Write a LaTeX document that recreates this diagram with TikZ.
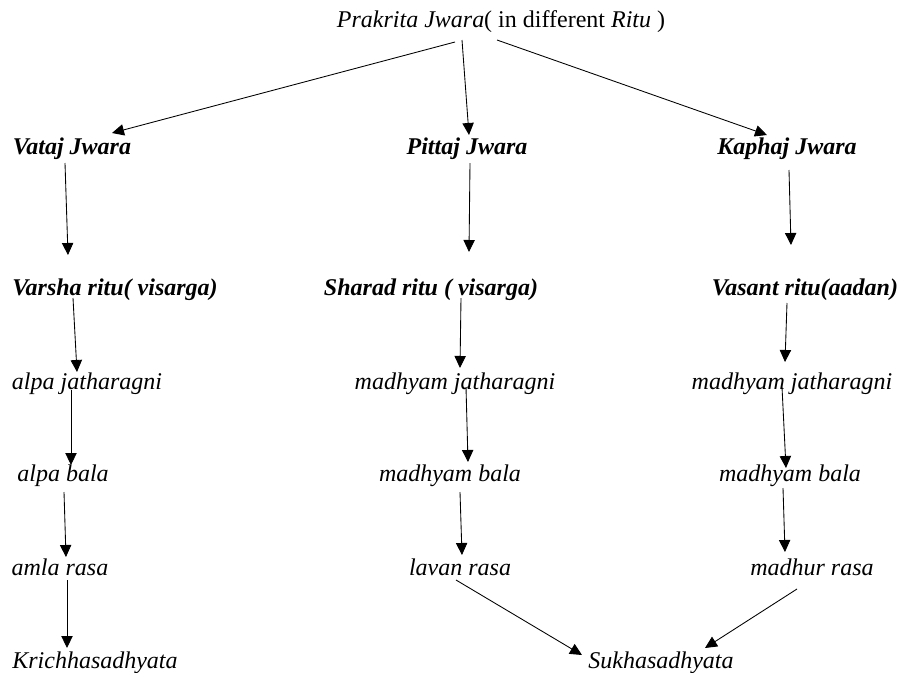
\documentclass[tikz,border=0pt]{standalone}
\usepackage{fontspec}
\setmainfont{Liberation Serif}[UprightFont=*,BoldFont=* Bold,ItalicFont=* Italic,BoldItalicFont=* Bold Italic]
\usetikzlibrary{arrows.meta,calc}
\begin{document}
\begin{tikzpicture}[x=0.75pt,y=-0.75pt,
  lbl/.style={inner sep=0pt,anchor=base,font=\fontsize{18}{21}\selectfont\itshape},
  blbl/.style={lbl,font=\fontsize{18}{21}\selectfont\bfseries\itshape},
  arr/.style={-{Triangle[length=9pt,width=8.5pt]},line width=0.65pt}]
\useasboundingbox (0,0) rectangle (897,672);
\node[lbl] (top) at (501,27) {Prakrita Jwara{\upshape( in different }Ritu{\upshape\ )}};
\node[blbl] (vataj) at (72,154) {Vataj Jwara};
\node[blbl] (pittaj) at (467,154) {Pittaj Jwara};
\node[blbl] (kaphaj) at (787,154) {Kaphaj Jwara};
\node[blbl] (varsha) at (115,295) {Varsha ritu( visarga)};
\node[blbl] (sharad) at (431,295) {Sharad ritu ( visarga)};
\node[blbl] (vasant) at (805,295) {Vasant ritu(aadan)};
\node[lbl] (aj) at (87,389) {alpa jatharagni};
\node[lbl] (mj1) at (455,389) {madhyam jatharagni};
\node[lbl] (mj2) at (792,389) {madhyam jatharagni};
\node[lbl] (ab) at (63,481) {alpa bala};
\node[lbl] (mb1) at (450,481) {madhyam bala};
\node[lbl] (mb2) at (790,481) {madhyam bala};
\node[lbl] (amla) at (60,575) {amla rasa};
\node[lbl] (lavan) at (460,575) {lavan rasa};
\node[lbl] (madhur) at (812,575) {madhur rasa};
\node[lbl] (krich) at (95,668) {Krichhasadhyata};
\node[lbl] (sukh) at (661,668) {Sukhasadhyata};
\newcommand{\conn}[6]{\draw[arr] ($(#1.base)+(#2,#3)$) -- ($(#4.base)+(#5,#6)$);}
\conn{top}{-46}{15}{vataj}{40}{-21}
\conn{top}{-39}{13}{pittaj}{2}{-19}
\conn{top}{-4}{13}{kaphaj}{-20}{-19}
\conn{vataj}{-7}{9}{varsha}{-47}{-40}
\conn{pittaj}{3}{9}{sharad}{38}{-43}
\conn{kaphaj}{2}{16}{vasant}{-14}{-50}
\conn{varsha}{-42}{3}{aj}{-10}{-17}
\conn{sharad}{30}{3}{mj1}{5}{-21}
\conn{vasant}{-18}{8}{mj2}{-7}{-27}
\conn{aj}{-16}{1}{ab}{8}{-16}
\conn{mj1}{11}{-2}{mb1}{18}{-19}
\conn{mj2}{-10}{-2}{mb2}{-4}{-13}
\conn{ab}{1}{11}{amla}{6}{-18}
\conn{mb1}{10}{11}{lavan}{2}{-20}
\conn{mb2}{-7}{7}{madhur}{-27}{-23}
\conn{amla}{7}{5}{krich}{-28}{-20}
\conn{lavan}{-4}{5}{sukh}{-79}{-13}
\conn{madhur}{-15}{14}{sukh}{44}{-20}
\end{tikzpicture}
\end{document}
